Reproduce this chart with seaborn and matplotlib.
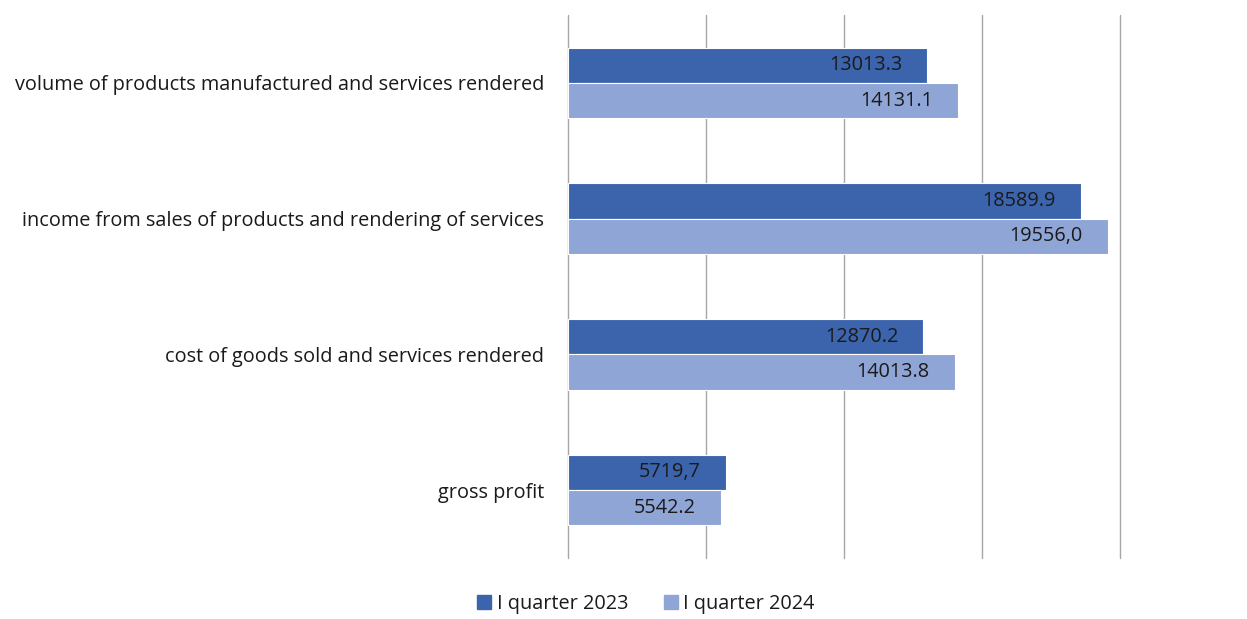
import matplotlib
matplotlib.use("Agg")
import matplotlib.pyplot as plt
import seaborn as sns
import pandas as pd
from matplotlib.lines import Line2D

categories = [
    "volume of products manufactured and services rendered",
    "income from sales of products and rendering of services",
    "cost of goods sold and services rendered",
    "gross profit",
]
series_names = ["I quarter 2023", "I quarter 2024"]
values_2023 = [13013.3, 18589.9, 12870.2, 5719.7]
values_2024 = [14131.1, 19556.0, 14013.8, 5542.2]
labels_2023 = ["13013.3", "18589.9", "12870.2", "5719,7"]
labels_2024 = ["14131.1", "19556,0", "14013.8", "5542.2"]
colors = ["#3B64AD", "#8FA5D6"]

rows = []
for c, v in zip(categories, values_2023):
    rows.append({"cat": c, "value": v, "series": series_names[0]})
for c, v in zip(categories, values_2024):
    rows.append({"cat": c, "value": v, "series": series_names[1]})
df = pd.DataFrame(rows)

sns.set_theme(style="white")
plt.rcParams["font.family"] = ["Open Sans", "DejaVu Sans"]

fig = plt.figure(figsize=(12.47, 6.19), dpi=100)
ax = fig.add_axes([568 / 1247, 1 - 558 / 619, (1120 - 568) / 1247, (558 - 15) / 619])

sns.barplot(data=df, y="cat", x="value", hue="series", palette=colors,
            orient="h", width=0.52, ax=ax, legend=False,
            edgecolor="white", linewidth=0.8, saturation=1)

ax.set_xlim(0, 20000)
ax.set_xticks([0, 5000, 10000, 15000, 20000])
ax.set_xticklabels([])
ax.xaxis.grid(True, color="#A6A6A6", linewidth=1.0)
for gl in ax.get_xgridlines():
    gl.set_clip_on(False)
ax.set_axisbelow(True)
for s in ax.spines.values():
    s.set_visible(False)
ax.set_xlabel("")
ax.set_ylabel("")
ax.tick_params(axis="y", length=0, pad=17, labelsize=14.3, labelcolor="#1a1a1a")
ax.tick_params(axis="x", length=0)

for container, labs in zip(ax.containers, [labels_2023, labels_2024]):
    for bar, lab in zip(container, labs):
        w = bar.get_width()
        yc = bar.get_y() + bar.get_height() / 2
        ax.annotate(lab, xy=(w, yc), xytext=(-18, 0), textcoords="offset points",
                    ha="right", va="center", fontsize=14.3, color="#1a1a1a")

handles = [Line2D([0], [0], marker="s", linestyle="", markersize=10,
                  markerfacecolor=col, markeredgecolor=col) for col in colors]
fig.legend(handles, series_names, loc="center", bbox_to_anchor=(0.517, 0.024),
           ncol=2, frameon=False, fontsize=14.3, handletextpad=0.15,
           columnspacing=1.6, handlelength=1.0, labelcolor="#1a1a1a")

fig.savefig("out.png", dpi=100)
